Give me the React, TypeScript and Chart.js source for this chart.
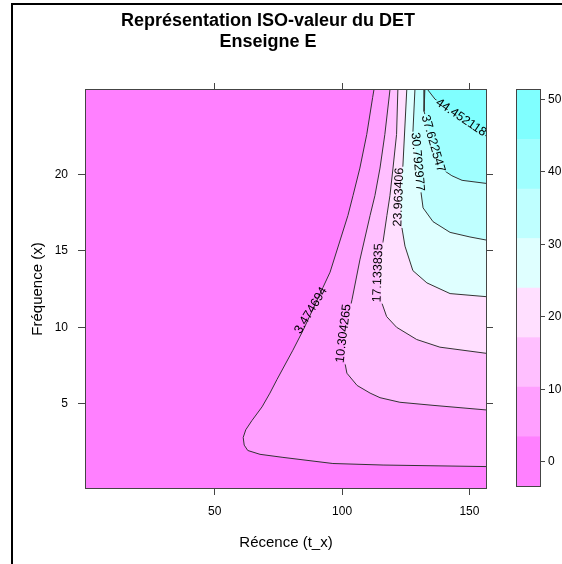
import React, { useEffect, useRef } from "react";
import { Chart, registerables } from "chart.js";

Chart.register(...registerables);

const titleLines = ["Représentation ISO-valeur du DET", "Enseigne E"];
const xTitle = "Récence (t_x)";
const yTitle = "Fréquence (x)";
const xTicks = [50, 100, 150];
const yTicks = [5, 10, 15, 20];
const colorbarTicks = [0, 10, 20, 30, 40, 50];
const xRange = [-0.5, 156.5];
const yRange = [-0.5, 25.5];
const levels = [-3.354877, 3.474694, 10.304265, 17.133835, 23.963406, 30.792977, 37.622547, 44.452118, 51.281689];
const regionColors = ["#FF80FF", "#FF9FFF", "#FFBFFF", "#FFDFFF", "#DFFFFF", "#BFFFFF", "#9FFFFF", "#80FFFF"];

// contour paths [recence, frequence]
const contour1: number[][] = [
  [112.5, 25.5], [112.0, 25.0], [109.7, 22.6], [107.0, 20.4], [104.3, 18.6], [102.3, 17.3],
  [95.3, 13.6], [92.5, 12.6], [84.7, 9.8], [80.7, 8.5], [74.5, 6.6], [71.7, 5.7], [68.6, 4.8],
  [64.6, 3.9], [62.2, 3.3], [61.2, 2.8], [61.6, 2.3], [63.0, 1.95], [67.8, 1.7], [76.8, 1.5],
  [96.4, 1.1], [116.1, 1.0], [156.5, 0.9],
];
const contour2: number[][] = [
  [118.8, 25.5], [116.8, 22.6], [114.9, 20.4], [112.9, 18.6], [111.0, 17.3], [107.0, 14.4],
  [103.9, 11.8], [101.0, 9.6], [101.1, 7.7], [101.9, 7.0], [105.9, 6.2], [111.0, 5.7],
  [114.9, 5.4], [122.7, 5.1], [135.7, 4.9], [156.5, 4.6],
];
const contour3: number[][] = [
  [121.9, 25.5], [121.4, 22.6], [120.0, 20.4], [118.8, 18.6], [117.6, 17.3], [116.1, 15.6],
  [114.6, 13.6], [115.6, 11.6], [117.5, 10.7], [121.4, 10.0], [129.3, 9.2], [138.4, 8.7],
  [156.5, 8.3],
];
const contour4: number[][] = [
  [125.4, 25.5], [123.9, 20.6], [122.8, 18.5], [123.5, 16.5], [124.7, 15.3], [127.8, 13.7],
  [133.3, 12.9], [142.4, 12.2], [156.5, 12.0],
];
const contour5: number[][] = [
  [128.6, 25.5], [127.8, 22.7], [129.6, 20.8], [131.0, 18.8], [131.8, 17.8], [135.7, 16.9],
  [142.4, 16.2], [150.2, 15.9], [156.5, 15.7],
];
const contour6: number[][] = [
  [132.5, 25.5], [132.2, 24.1], [135.7, 22.0], [140.4, 20.2], [143.1, 19.9], [147.1, 19.6],
  [156.5, 19.4],
];
const contour7: number[][] = [
  [133.7, 25.5], [136.5, 24.9], [142.4, 24.2], [150.2, 23.2], [156.5, 22.5],
];
const contours = [contour1, contour2, contour3, contour4, contour5, contour6, contour7];

// contour labels (position in data units, angle in degrees)
const labelX = [87.8, 100.6, 114.1, 122.3, 129.6, 135.7, 146.7];
const labelY = [11.1, 9.6, 13.55, 18.5, 20.8, 22.0, 23.7];
const labelAngle = [-58.7, -83, -88, -88, 85, 74, 34];
const labelBreaks = [false, true, true, true, true, true, true];

const FONT = '"Liberation Sans", Arial, Helvetica, sans-serif';
const LABEL_FONT = `12.5px ${FONT}`;
const AXIS_COLOR = "#444";

function labelBox(chart: any, i: number, ctx: CanvasRenderingContext2D) {
  const px = chart.scales.x.getPixelForValue(labelX[i]);
  const py = chart.scales.y.getPixelForValue(labelY[i]);
  const a = (labelAngle[i] * Math.PI) / 180;
  ctx.font = LABEL_FONT;
  const text = String(levels[i + 1]);
  const w = ctx.measureText(text).width;
  return { px, py, a, text, w };
}

const contourPlugin = {
  id: "contourDecor",
  beforeDatasetsDraw(chart: any) {
    const { ctx, chartArea: ca } = chart;
    ctx.save();
    ctx.fillStyle = regionColors[0];
    ctx.fillRect(ca.left, ca.top, ca.right - ca.left, ca.bottom - ca.top);
    ctx.restore();
  },
  beforeDatasetDraw(chart: any, args: any) {
    const i = args.index - contours.length;
    if (i < 0) return;
    const ctx = chart.ctx;
    ctx.save();
    if (!labelBreaks[i]) return;
    const { px, py, a, w } = labelBox(chart, i, ctx);
    const hw = w / 2 + 1;
    const hh = 6;
    const c = Math.cos(a);
    const s = Math.sin(a);
    const ca = chart.chartArea;
    ctx.beginPath();
    ctx.rect(ca.left - 5, ca.top - 5, ca.right - ca.left + 10, ca.bottom - ca.top + 10);
    const pts = [[-hw, -hh], [hw, -hh], [hw, hh], [-hw, hh]];
    pts.forEach(([u, v], k) => {
      const X = px + u * c - v * s;
      const Y = py + u * s + v * c;
      if (k) ctx.lineTo(X, Y);
      else ctx.moveTo(X, Y);
    });
    ctx.closePath();
    ctx.clip("evenodd");
  },
  afterDatasetDraw(chart: any, args: any) {
    if (args.index - contours.length < 0) return;
    chart.ctx.restore();
  },
  afterDatasetsDraw(chart: any) {
    const { ctx, chartArea: ca } = chart;
    ctx.save();
    ctx.beginPath();
    ctx.rect(ca.left, ca.top, ca.right - ca.left, ca.bottom - ca.top);
    ctx.clip();
    ctx.fillStyle = "#000";
    ctx.textAlign = "center";
    ctx.textBaseline = "middle";
    for (let i = 0; i < contours.length; i++) {
      const { px, py, a, text } = labelBox(chart, i, ctx);
      ctx.save();
      ctx.translate(px, py);
      ctx.rotate(a);
      ctx.fillText(text, 0, 0);
      ctx.restore();
    }
    ctx.restore();
    ctx.save();
    ctx.strokeStyle = AXIS_COLOR;
    ctx.lineWidth = 1;
    ctx.strokeRect(ca.left - 0.5, ca.top - 0.5, ca.right - ca.left + 1, ca.bottom - ca.top + 1);
    ctx.restore();
  },
};

const framePlugin = {
  id: "cbFrame",
  afterDatasetsDraw(chart: any) {
    const { ctx, chartArea: ca } = chart;
    ctx.save();
    ctx.strokeStyle = AXIS_COLOR;
    ctx.lineWidth = 1;
    ctx.strokeRect(ca.left - 0.5, ca.top - 0.5, ca.right - ca.left + 1, ca.bottom - ca.top + 1);
    ctx.restore();
  },
};

const tickGrid = (len: number) => ({
  display: true,
  drawOnChartArea: false,
  drawTicks: true,
  tickLength: len,
  color: AXIS_COLOR,
  lineWidth: 1,
});

export default function App() {
  const mainRef = useRef<HTMLCanvasElement>(null);
  const barRef = useRef<HTMLCanvasElement>(null);

  useEffect(() => {
    Chart.defaults.font.family = FONT;
    const toPts = (arr: number[][]) => arr.map(([x, y]) => ({ x, y }));

    const fillSets = contours.map((c, i) => ({
      label: "fill" + i,
      data: [...toPts(c), { x: xRange[1], y: yRange[1] }],
      showLine: true,
      fill: "shape",
      backgroundColor: regionColors[i + 1],
      borderColor: "rgba(0,0,0,0)",
      borderWidth: 0,
      pointRadius: 0,
      order: 100 - i,
    }));
    const lineSets = contours.map((c, i) => ({
      label: "line" + i,
      data: toPts(c),
      showLine: true,
      fill: false,
      borderColor: "#333",
      borderWidth: 1,
      pointRadius: 0,
      order: 10 - i,
    }));

    const xt = (s: any) => {
      s.ticks = xTicks.map((v) => ({ value: v }));
    };
    const yt = (s: any) => {
      s.ticks = yTicks.map((v) => ({ value: v }));
    };

    const main = new Chart(mainRef.current as HTMLCanvasElement, {
      type: "scatter",
      data: { datasets: [...fillSets, ...lineSets] as any },
      options: {
        animation: false,
        responsive: false,
        events: [],
        layout: { padding: 0 },
        plugins: {
          legend: { display: false },
          tooltip: { enabled: false },
          title: {
            display: true,
            text: titleLines,
            color: "#000",
            font: { size: 18, weight: "bold", lineHeight: 1.2 },
            padding: { top: 10, bottom: 10 },
          },
        },
        scales: {
          x: {
            type: "linear",
            position: "bottom",
            min: xRange[0],
            max: xRange[1],
            afterBuildTicks: xt,
            ticks: { color: "#000", font: { size: 12 }, padding: 9, maxRotation: 0, autoSkip: false },
            grid: tickGrid(7),
            border: { display: false },
            title: { display: true, text: xTitle, color: "#000", font: { size: 15 }, padding: { top: 0, bottom: 12 } },
            afterFit: (s: any) => {
              s.height = 76;
            },
          },
          x2: {
            type: "linear",
            position: "top",
            min: xRange[0],
            max: xRange[1],
            afterBuildTicks: xt,
            ticks: { display: false },
            grid: tickGrid(7),
            border: { display: false },
            afterFit: (s: any) => {
              s.height = 26.8;
            },
          },
          y: {
            type: "linear",
            position: "left",
            min: yRange[0],
            max: yRange[1],
            afterBuildTicks: yt,
            ticks: { color: "#000", font: { size: 12 }, padding: 10 },
            grid: tickGrid(8),
            border: { display: false },
            title: { display: true, text: yTitle, color: "#000", font: { size: 15 }, padding: { top: 29, bottom: 0 } },
            afterFit: (s: any) => {
              s.width = 86;
            },
          },
          y2: {
            type: "linear",
            position: "right",
            min: yRange[0],
            max: yRange[1],
            afterBuildTicks: yt,
            ticks: { display: false },
            grid: tickGrid(7),
            border: { display: false },
            afterFit: (s: any) => {
              s.width = 50;
            },
          },
        } as any,
      },
      plugins: [contourPlugin],
    });

    const bar = new Chart(barRef.current as HTMLCanvasElement, {
      type: "bar",
      data: {
        labels: [""],
        datasets: regionColors.map((c, i) => ({
          data: [[levels[i], levels[i + 1]]],
          backgroundColor: c,
          borderWidth: 0,
          barPercentage: 1,
          categoryPercentage: 1,
          grouped: false,
        })) as any,
      },
      options: {
        animation: false,
        responsive: false,
        events: [],
        layout: { padding: { left: 12, top: 90, bottom: 78, right: 0 } },
        plugins: { legend: { display: false }, tooltip: { enabled: false }, title: { display: false } },
        scales: {
          x: { display: false },
          y: {
            position: "right",
            min: levels[0],
            max: levels[levels.length - 1],
            afterBuildTicks: (s: any) => {
              s.ticks = colorbarTicks.map((v) => ({ value: v }));
            },
            ticks: { color: "#000", font: { size: 12 }, padding: 3 },
            grid: tickGrid(5),
            border: { display: false },
            afterFit: (s: any) => {
              s.width = 22;
            },
          },
        } as any,
      },
      plugins: [framePlugin],
    });

    return () => {
      main.destroy();
      bar.destroy();
    };
  }, []);

  return (
    <div style={{ position: "fixed", left: 0, top: 0, width: 562, height: 564, background: "#fff", overflow: "hidden" }}>
      <div
        style={{
          position: "absolute",
          left: 11,
          top: 3,
          width: 600,
          height: 600,
          borderLeft: "2px solid #000",
          borderTop: "2px solid #000",
        }}
      />
      <canvas ref={mainRef} width={536} height={564} style={{ position: "absolute", left: 0, top: 0, width: 536, height: 564 }} />
      <canvas ref={barRef} width={57} height={564} style={{ position: "absolute", left: 505, top: 0, width: 57, height: 564 }} />
    </div>
  );
}
